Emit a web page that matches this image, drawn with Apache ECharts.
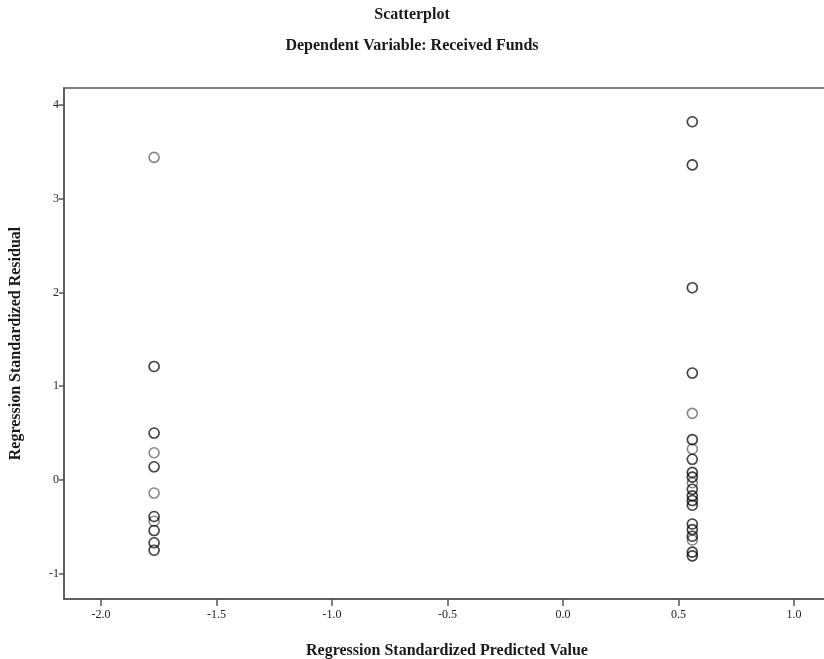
<!DOCTYPE html>
<html>
<head>
<meta charset="utf-8">
<script src="https://cdn.jsdelivr.net/npm/echarts@6/dist/echarts.min.js"></script>
<style>html,body{margin:0;padding:0;background:#fff}#c{width:824px;height:659px}</style>
</head>
<body>
<div id="c"></div>
<script>
// Predicted value for each of the two groups
const leftPredicted = -1.77;
const rightPredicted = 0.56;
// Standardized residuals (repeated values = overlapping cases)
const leftResiduals = [3.44, 1.21, 1.21, 0.50, 0.50, 0.29, 0.14, 0.14, -0.14, -0.39, -0.39, -0.44, -0.54, -0.54, -0.67, -0.67, -0.75, -0.75];
const rightResiduals = [3.82, 3.82, 3.36, 3.36, 2.05, 2.05, 1.14, 1.14, 0.71, 0.43, 0.43, 0.33, 0.22, 0.22, 0.08, 0.08, 0.03, 0.03, -0.03, -0.10, -0.10, -0.17, -0.17, -0.22, -0.22, -0.27, -0.27, -0.47, -0.47, -0.53, -0.53, -0.60, -0.60, -0.64, -0.77, -0.77, -0.81, -0.81];

const points = leftResiduals.map(r => [leftPredicted, r]).concat(rightResiduals.map(r => [rightPredicted, r]));

const serif = '"Liberation Serif","DejaVu Serif",serif';
const chart = echarts.init(document.getElementById('c'));
chart.setOption({
  animation: false,
  backgroundColor: '#fff',
  title: [
    {text: 'Scatterplot', left: 'center', top: 2, textStyle: {fontFamily: serif, fontSize: 16, fontWeight: 'bold', color: '#1a1a1a'}},
    {text: 'Dependent Variable: Received Funds', left: 'center', top: 33, textStyle: {fontFamily: serif, fontSize: 16, fontWeight: 'bold', color: '#1a1a1a'}}
  ],
  grid: {left: 64, right: -6, top: 88, bottom: 60, outerBoundsMode: 'none', containLabel: false, show: true, borderColor: '#555', borderWidth: 1.5, backgroundColor: 'transparent'},
  xAxis: {
    type: 'value', min: -2.16, max: 1.156, splitNumber: 7,
    name: 'Regression Standardized Predicted Value', nameLocation: 'middle', nameGap: 44,
    nameTextStyle: {fontFamily: serif, fontSize: 16, fontWeight: 'bold', color: '#1a1a1a'},
    axisLine: {show: true, onZero: false, lineStyle: {color: '#555', width: 1.5}},
    axisTick: {show: true, length: 7, lineStyle: {color: '#555', width: 1.5}},
    axisLabel: {showMinLabel: false, showMaxLabel: false, fontFamily: serif, fontSize: 12, color: '#222', margin: 10, formatter: v => v.toFixed(1)},
    splitLine: {show: false}
  },
  yAxis: {
    type: 'value', min: -1.27, max: 4.18, splitNumber: 5,
    name: 'Regression Standardized Residual', nameLocation: 'middle', nameGap: 40,
    nameTextStyle: {fontFamily: serif, fontSize: 16, fontWeight: 'bold', color: '#1a1a1a'},
    axisLine: {show: true, onZero: false, lineStyle: {color: '#555', width: 1.5}},
    axisTick: {show: true, length: 5, lineStyle: {color: '#555', width: 1.5}},
    axisLabel: {showMinLabel: false, showMaxLabel: false, fontFamily: serif, fontSize: 12, color: '#222', margin: 5},
    splitLine: {show: false}
  },
  series: [{
    type: 'scatter',
    data: points,
    symbol: 'circle',
    symbolSize: 10,
    itemStyle: {color: 'transparent', borderColor: 'rgba(0,0,0,0.6)', borderWidth: 1.6}
  }]
});
</script>
</body>
</html>
